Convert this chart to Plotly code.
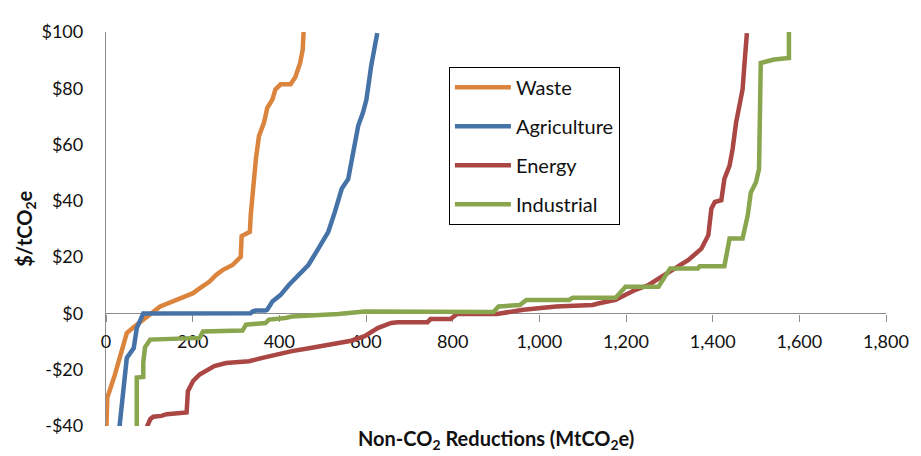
import plotly.graph_objects as go

# ---- data ----
waste_x = [1, 3, 20, 41, 48, 63, 90, 101, 125, 150, 170, 201, 216, 239, 254, 269, 292, 311, 313, 317, 332, 334, 338, 346, 353, 365, 372, 384, 391, 403, 426, 437, 448, 454, 456]
waste_y = [-40, -30, -22, -10, -7, -5, -1.7, 0, 2.5, 4, 5.4, 7.2, 8.9, 11.3, 13.7, 15.4, 17.2, 20.1, 27.5, 27.8, 29, 35, 42, 55, 63, 68, 73, 76, 79.6, 81.4, 81.4, 84, 89, 93.7, 100]

agri_x = [31, 40, 48, 64, 71, 86, 200, 334, 338, 345, 368, 372, 384, 403, 422, 445, 467, 490, 513, 528, 544, 559, 570, 582, 593, 601, 612, 620, 626]
agri_y = [-40.5, -28, -15.8, -12.3, -5.2, 0, 0, 0.1, 0.7, 1, 1, 1.3, 4.2, 6.6, 10.1, 13.7, 17.2, 23, 29, 36, 44.3, 47.8, 56, 66.7, 71.4, 76, 88, 93.7, 99.6]

energy_x = [94, 102, 109, 128, 140, 186, 189, 201, 216, 231, 250, 277, 330, 361, 391, 429, 475, 528, 566, 597, 627, 658, 673, 742, 749, 795, 810, 902, 963, 1039, 1123, 1138, 1176, 1199, 1222, 1252, 1283, 1321, 1344, 1374, 1390, 1397, 1405, 1420, 1427, 1439, 1446, 1454, 1462, 1469, 1473, 1479]
energy_y = [-40.5, -37.6, -36.7, -36.4, -35.8, -35.2, -27.6, -24, -21.7, -20.5, -18.7, -17.6, -17, -15.8, -14.6, -13.4, -12.2, -10.8, -9.7, -8.1, -5.2, -3.4, -3.1, -3.1, -2, -2, -0.2, -0.2, 1.3, 2.5, 3, 3.6, 4.8, 6.6, 8.4, 10.1, 13.1, 16.6, 19, 23, 27.8, 37.2, 39.6, 40.2, 47.8, 52.5, 58.4, 67.8, 73.7, 79.6, 87.9, 99.6]

indus_x = [71, 71, 86, 86, 90, 102, 216, 224, 315, 323, 368, 376, 414, 429, 536, 597, 894, 906, 955, 970, 1069, 1077, 1176, 1199, 1275, 1302, 1366, 1370, 1427, 1439, 1469, 1481, 1488, 1500, 1507, 1511, 1542, 1576, 1576]
indus_y = [-40.5, -22.8, -22.6, -17.5, -12, -9.3, -8.7, -6.4, -6.1, -4, -3.4, -2.2, -1.6, -1.1, -0.2, 0.7, 0.5, 2.5, 3, 4.8, 4.8, 5.6, 5.6, 9.5, 9.5, 16, 16, 16.8, 16.8, 26.6, 26.6, 34.9, 43, 46.6, 51.3, 89, 90.2, 90.8, 100]

series_names = ["Waste", "Agriculture", "Energy", "Industrial"]
series_colors = ["#DB843D", "#4572A7", "#AA4643", "#89A54E"]

y_tickvals = [-40, -20, 0, 20, 40, 60, 80, 100]
y_ticktext = ["-$40", "-$20", "$0", "$20", "$40", "$60", "$80", "$100"]
x_tickvals = [0, 200, 400, 600, 800, 1000, 1200, 1400, 1600, 1800]
x_ticktext = ["0", "200", "400", "600", "800", "1,000", "1,200", "1,400", "1,600", "1,800"]

FONT = "Lato"
TXT = "#111111"

fig = go.Figure()
for i, (xs, ys) in enumerate([(waste_x, waste_y), (agri_x, agri_y), (energy_x, energy_y), (indus_x, indus_y)]):
    fig.add_trace(go.Scatter(
        x=xs, y=ys, mode="lines", name=series_names[i], legendgroup=series_names[i],
        line=dict(color=series_colors[i], width=4.5),
    ))

fig.update_layout(
    width=913, height=448,
    margin=dict(l=98, r=28, t=21, b=30),
    paper_bgcolor="white", plot_bgcolor="white",
    font=dict(family=FONT, size=18, color=TXT),
    showlegend=True,
    legend=dict(
        x=(452 - 106) / 787, y=(426 - 64) / 397, xanchor="left", yanchor="top",
        bordercolor="#000000", borderwidth=1, bgcolor="white",
        font=dict(family=FONT, size=20, color=TXT),
        tracegroupgap=10, itemwidth=56,
    ),
    xaxis=dict(
        range=[0, 1800], tickvals=x_tickvals, ticktext=x_ticktext,
        anchor="free", position=40 / 140,
        showline=True, linecolor="#8c8c8c", linewidth=1.3,
        ticks="outside", ticklen=7, tickcolor="#8c8c8c", tickwidth=1.3,
        ticklabelstandoff=5,
        showgrid=False, zeroline=False, layer="below traces",
    ),
    yaxis=dict(
        range=[-40, 100], tickvals=y_tickvals, ticktext=y_ticktext,
        showline=True, linecolor="#8c8c8c", linewidth=1.3,
        ticks="", ticklabelstandoff=18,
        showgrid=False, zeroline=False, layer="below traces",
    ),
    annotations=[
        dict(text="<b>Non-CO<sub>2</sub> Reductions (MtCO<sub>2</sub>e)</b>", xref="paper", yref="paper",
             x=0.5, y=(426 - 440) / 397, xanchor="center", yanchor="middle", showarrow=False,
             font=dict(family=FONT, size=20, color=TXT)),
        dict(text="<b>$/tCO<sub>2</sub>e</b>", xref="paper", yref="paper", textangle=-90,
             x=(24 - 106) / 787, y=0.5, xanchor="center", yanchor="middle", showarrow=False,
             font=dict(family=FONT, size=20, color=TXT)),
    ],
)

fig.write_html("out.html")
